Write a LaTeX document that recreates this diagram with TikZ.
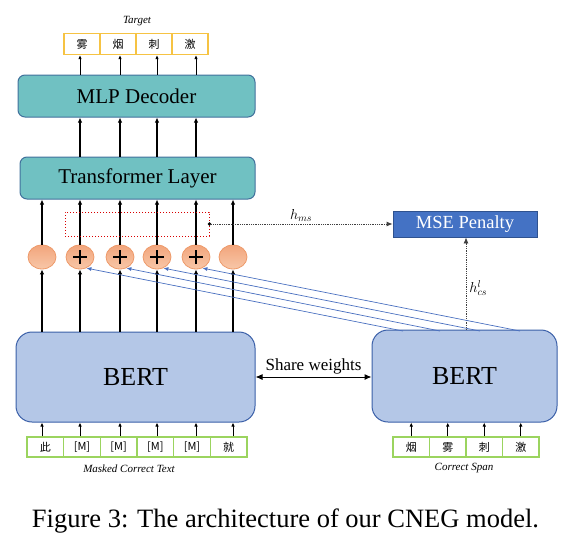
\documentclass[tikz,border=0pt]{standalone}
\usepackage{fontspec}
\setmainfont{Liberation Serif}
\newfontfamily\cjk{Noto Sans CJK SC}
\usetikzlibrary{arrows.meta,shapes.geometric}
\definecolor{tealfill}{HTML}{70C1C2}
\definecolor{boxedge}{HTML}{41719C}
\definecolor{bertfill}{HTML}{B4C7E7}
\definecolor{bertedge}{HTML}{3A5FA8}
\definecolor{msefill}{HTML}{4472C4}
\definecolor{mseedge}{HTML}{2F528F}
\definecolor{circtop}{HTML}{F2A57C}
\definecolor{circbot}{HTML}{F8C7A8}
\definecolor{circedge}{HTML}{EE9A6A}
\definecolor{goldedge}{HTML}{F6C343}
\definecolor{greenedge}{HTML}{9BD45F}
\definecolor{blueline}{HTML}{4A70C0}
\begin{document}
\begin{tikzpicture}[x=1pt,y=-1pt,
  layerbox/.style={draw=boxedge, line width=1pt, fill=tealfill, rounded corners=7pt, font=\fontsize{21}{24}\selectfont},
  bertbox/.style={draw=bertedge, line width=1pt, fill=bertfill, rounded corners=16pt, font=\fontsize{26}{30}\selectfont},
  circnode/.style={ellipse, draw=circedge, line width=0.8pt, top color=circtop, bottom color=circbot, minimum width=28pt, minimum height=24pt, inner sep=0pt},
  plusnode/.style={circnode, path picture={\draw[black, line width=1.2pt] ([xshift=-7pt]path picture bounding box.center) -- ([xshift=7pt]path picture bounding box.center); \draw[black, line width=1.2pt] ([yshift=-7pt]path picture bounding box.center) -- ([yshift=7pt]path picture bounding box.center);}},
  tgtbox/.style={draw=goldedge, line width=1.2pt, fill=white, minimum width=36pt, minimum height=21pt, inner sep=0pt, font=\cjk\fontsize{11}{12}\selectfont},
  inbox/.style={draw=greenedge, line width=1.2pt, fill=white, minimum width=36.67pt, minimum height=20pt, inner sep=0pt, font=\cjk\fontsize{11}{12}\selectfont},
  arr/.style={line width=1.1pt, -{Latex[length=5pt,width=4.5pt]}},
  smallarr/.style={line width=0.8pt, -{Latex[length=4pt,width=3.5pt]}},
  dotarr/.style={densely dotted, line width=0.8pt, black!75, -{Latex[length=6pt,width=5pt]}},
  blarr/.style={draw=blueline, line width=0.7pt, -{Latex[length=5pt,width=4pt]}},
  caplabel/.style={font=\itshape\fontsize{11}{13}\selectfont}
]
\useasboundingbox (0,0) rectangle (567,551);

% column coordinates
\coordinate (c1) at (42,0);
\coordinate (c2) at (80,0);
\coordinate (c3) at (120,0);
\coordinate (c4) at (157,0);
\coordinate (c5) at (196,0);
\coordinate (c6) at (233,0);
\coordinate (hx) at (466,0);
\coordinate (sy) at (0,377);

% target
\node[caplabel] (tlabel) at (137,21) {Target};
\node[tgtbox] (t1) at (82,44) {雾};
\node[tgtbox] (t2) at (118,44) {烟};
\node[tgtbox] (t3) at (154,44) {刺};
\node[tgtbox] (t4) at (190,44) {激};

% layers
\node[layerbox, minimum width=237pt, minimum height=42pt] (mlp) at (136.5,96) {MLP Decoder};
\node[layerbox, minimum width=235pt, minimum height=42pt] (tl) at (137.5,178) {Transformer Layer};

\draw[smallarr] (mlp.north -| c2) -- (t1.south -| c2);
\draw[smallarr] (mlp.north -| c3) -- (t2.south -| c3);
\draw[smallarr] (mlp.north -| c4) -- (t3.south -| c4);
\draw[smallarr] (mlp.north -| c5) -- (t4.south -| c5);

\draw[arr] (tl.north -| c2) -- (mlp.south -| c2);
\draw[arr] (tl.north -| c3) -- (mlp.south -| c3);
\draw[arr] (tl.north -| c4) -- (mlp.south -| c4);
\draw[arr] (tl.north -| c5) -- (mlp.south -| c5);

% circles
\node[circnode] (o1) at (42,257) {};
\node[plusnode] (o2) at (80,257) {};
\node[plusnode] (o3) at (120,257) {};
\node[plusnode] (o4) at (157,257) {};
\node[plusnode] (o5) at (196,257) {};
\node[circnode] (o6) at (233,257) {};

\foreach \i in {1,...,6} {
  \draw[arr] (o\i.north) -- (tl.south -| o\i);
}

% BERT boxes
\node[bertbox, minimum width=239pt, minimum height=90pt] (b1) at (135.5,377) {BERT};
\node[bertbox, minimum width=185pt, minimum height=92pt] (b2) at (464.5,376) {BERT};

\foreach \i in {1,...,6} {
  \draw[arr] (b1.north -| o\i) -- (o\i.south);
}

% red dotted region and MSE
\node[draw=red!85!black, dotted, line width=1pt, minimum width=144pt, minimum height=24pt, inner sep=0pt] (rd) at (137,224) {};
\node[draw=mseedge, line width=0.8pt, fill=msefill, text=white, minimum width=144pt, minimum height=26pt, inner sep=0pt, font=\fontsize{18.5}{22}\selectfont] (mse) at (465,224) {MSE Penalty};
\fill (rd.east) circle (1.8pt);
\draw[dotarr] (rd.east) -- (mse.west) node[midway, above, black, inner sep=2pt, font=\fontsize{14}{16}\selectfont] {$h_{ms}$};
\draw[dotarr] (b2.north -| hx) -- (mse.south -| hx) node[pos=0.45, right, black, inner sep=0pt, xshift=3pt, font=\fontsize{14}{16}\selectfont] {$h^{l}_{cs}$};

% blue lines
\coordinate (s1) at (403,331);
\coordinate (s2) at (440,331);
\coordinate (s3) at (480,331);
\coordinate (s4) at (520,331);
\draw[blarr] (s1) -- (o2.-60);
\draw[blarr] (s2) -- (o3.-60);
\draw[blarr] (s3) -- (o4.-60);
\draw[blarr] (s4) -- (o5.-60);

% share weights
\draw[line width=1pt, {Latex[length=7pt,width=6pt]}-{Latex[length=7pt,width=6pt]}] (b1.east |- sy) -- (b2.west |- sy) node[midway, above, inner sep=2pt, font=\fontsize{17}{20}\selectfont] {Share weights};

% input tokens left
\node[inbox] (m1) at (45.33,447) {此};
\node[inbox] (m2) at (82,447) {[M]};
\node[inbox] (m3) at (118.67,447) {[M]};
\node[inbox] (m4) at (155.33,447) {[M]};
\node[inbox] (m5) at (192,447) {[M]};
\node[inbox] (m6) at (228.67,447) {就};
\foreach \i in {1,...,6} {
  \draw[smallarr] (m\i.north -| o\i) -- (b1.south -| o\i);
}
\node[caplabel] (mlabel) at (129,469) {Masked Correct Text};

% input tokens right
\node[inbox, minimum width=36.5pt] (r1) at (411.25,447) {烟};
\node[inbox, minimum width=36.5pt] (r2) at (447.75,447) {雾};
\node[inbox, minimum width=36.5pt] (r3) at (484.25,447) {刺};
\node[inbox, minimum width=36.5pt] (r4) at (520.75,447) {激};
\foreach \i in {1,...,4} {
  \draw[smallarr] (r\i.north) -- (b2.south -| r\i);
}
\node[caplabel] (rlabel) at (464,468) {Correct Span};

% caption
\node[font=\fontsize{26.5}{30}\selectfont] (cap) at (285.5,521) {Figure 3: The architecture of our CNEG model.};
\end{tikzpicture}
\end{document}
